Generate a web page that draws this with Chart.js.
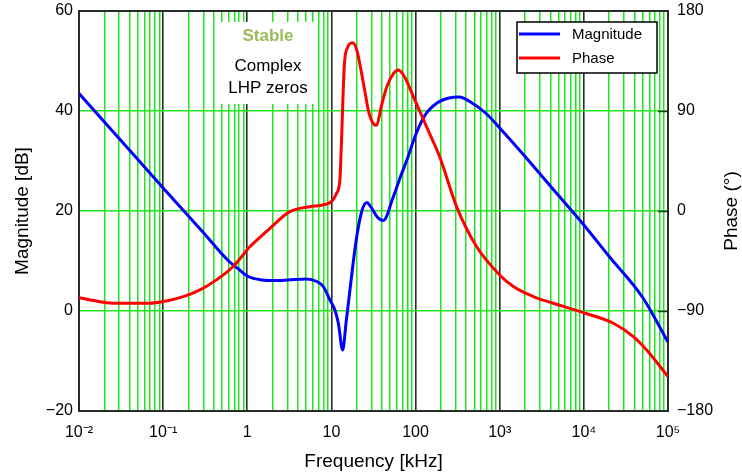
<!DOCTYPE html>
<html>
<head>
<meta charset="utf-8">
<script src="https://cdn.jsdelivr.net/npm/chart.js@4.4.1/dist/chart.umd.min.js"></script>
<style>
  html, body { margin: 0; padding: 0; background: #fff; }
  #wrap { width: 742px; height: 475px; }
</style>
</head>
<body>
<div id="wrap"><canvas id="chart" width="742" height="475"></canvas></div>
<script>
// frequency in kHz
const magFreq = [0.01, 0.03, 0.1, 0.3, 0.6, 0.8, 1, 1.5, 2, 3, 5, 6.7, 8, 9.6, 11, 12.1, 13.6, 15, 16.6, 18, 20, 22.9, 26.3, 30, 35, 41.4, 54, 65, 80, 100, 130, 180, 250, 330, 450, 700, 1000, 2000, 5000, 10000, 20000, 50000, 100000];
const magDb = [43.5, 34.5, 24.6, 15.7, 10.0, 8.3, 7.0, 6.2, 6.1, 6.2, 6.4, 5.9, 4.9, 2.2, 0.2, -2.5, -7.8, -2.0, 4.2, 9.2, 14.9, 19.9, 21.7, 20.6, 18.8, 18.1, 22.7, 26.5, 30.5, 35.2, 39.2, 41.6, 42.6, 42.8, 41.8, 39.4, 36.6, 30.9, 23.1, 17.2, 10.9, 2.7, -6.2];

const phaseFreq = [0.01, 0.0177, 0.028, 0.07, 0.098, 0.174, 0.274, 0.43, 0.68, 1.08, 1.86, 3.2, 5.5, 9.6, 11.5, 12.6, 13.2, 14.2, 15.5, 17.8, 20, 24, 28, 33.9, 40, 45.6, 55, 62.5, 75, 94, 146, 193, 307, 530, 1000, 1450, 2500, 4340, 9000, 22400, 38700, 55800, 100000];
const phaseDeg = [-78, -81.6, -83, -83, -81.6, -77, -71, -62, -50, -32, -15.6, -0.6, 3.9, 7.5, 15.9, 28, 65, 130, 147, 151.5, 145, 115, 88, 77, 97, 112, 124, 127, 120, 103, 70, 49, 3.9, -32, -57.6, -68, -77, -83, -90.6, -101, -113, -125, -149];

const decadeLabels = { '-2': '10⁻²', '-1': '10⁻¹', '0': '1', '1': '10', '2': '100', '3': '10³', '4': '10⁴', '5': '10⁵' };
const phaseTickMarks = [-90, 0, 90];
const noteLines = ['Stable', 'Complex', 'LHP zeros'];

const GREEN = '#1ee61e';
const AXIS = '#2a2a2a';
const FONT = '"Liberation Sans", Arial, Helvetica, sans-serif';

Chart.defaults.font.family = FONT;
Chart.defaults.color = '#000';

const isDecade = v => Math.abs(Math.log10(v) - Math.round(Math.log10(v))) < 1e-6;
const minus = v => (v < 0 ? '\u2212' + Math.abs(v) : String(v));

// fixed axis sizes so the plot box lands where the original one is
const fixWidth = w => scale => {
  scale.width = w;
  scale.paddingTop = 0;
  scale.paddingBottom = 0;
};

// frame, note box, inward phase ticks, legend, right axis title
const decorations = {
  id: 'decorations',
  beforeDatasetsDraw(chart) {
    const { ctx, chartArea: a, scales: { x, y, y1 } } = chart;
    ctx.save();
    // note box (no border, white background)
    const cx = x.getPixelForValue(1.76);
    const top = y.getPixelForValue(57.8), bot = y.getPixelForValue(41.4);
    ctx.fillStyle = '#fff';
    ctx.fillRect(cx - 48, top, 97, bot - top);
    ctx.textAlign = 'center';
    ctx.textBaseline = 'middle';
    ctx.fillStyle = '#9bbb59';
    ctx.font = `bold 17px ${FONT}`;
    ctx.fillText(noteLines[0], cx, y.getPixelForValue(55));
    ctx.fillStyle = '#000';
    ctx.font = `17px ${FONT}`;
    ctx.fillText(noteLines[1], cx, y.getPixelForValue(49));
    ctx.fillText(noteLines[2], cx, y.getPixelForValue(44.6));

    ctx.strokeStyle = AXIS;
    ctx.lineWidth = 2;
    ctx.strokeRect(a.left, a.top, a.width, a.height);
    ctx.lineWidth = 1.5;
    ctx.beginPath();
    for (const v of phaseTickMarks) {
      const py = Math.round(y1.getPixelForValue(v)) + 0.5;
      ctx.moveTo(a.right - 10, py);
      ctx.lineTo(a.right, py);
    }
    ctx.stroke();
    ctx.restore();
  },
  afterDraw(chart) {
    const { ctx, chartArea: a } = chart;
    ctx.save();
    // legend
    const bx = a.right - 151, by = a.top + 11, bw = 140, bh = 51;
    ctx.fillStyle = '#fff';
    ctx.fillRect(bx, by, bw, bh);
    ctx.strokeStyle = '#000';
    ctx.lineWidth = 1.5;
    ctx.strokeRect(bx, by, bw, bh);
    chart.data.datasets.forEach((ds, i) => {
      const ly = by + 12 + i * 24;
      ctx.strokeStyle = ds.borderColor;
      ctx.lineWidth = 3;
      ctx.beginPath();
      ctx.moveTo(bx + 2, ly);
      ctx.lineTo(bx + 43, ly);
      ctx.stroke();
      ctx.fillStyle = '#000';
      ctx.font = `15px ${FONT}`;
      ctx.textAlign = 'left';
      ctx.textBaseline = 'middle';
      ctx.fillText(ds.label, bx + 55, ly + 1);
    });
    // right axis title, reading bottom to top
    ctx.translate(a.right + 64, (a.top + a.bottom) / 2);
    ctx.rotate(-Math.PI / 2);
    ctx.textAlign = 'center';
    ctx.textBaseline = 'middle';
    ctx.font = `19px ${FONT}`;
    ctx.fillStyle = '#000';
    ctx.fillText('Phase (°)', 0, 0);
    ctx.restore();
  },
};

new Chart(document.getElementById('chart'), {
  type: 'line',
  data: {
    datasets: [
      {
        label: 'Magnitude',
        data: magFreq.map((f, i) => ({ x: f, y: magDb[i] })),
        yAxisID: 'y',
        borderColor: '#0000ff',
        borderWidth: 3,
        pointRadius: 0,
        cubicInterpolationMode: 'monotone',
        order: 1,
      },
      {
        label: 'Phase',
        data: phaseFreq.map((f, i) => ({ x: f, y: phaseDeg[i] })),
        yAxisID: 'y1',
        borderColor: '#ff0000',
        borderWidth: 3,
        pointRadius: 0,
        cubicInterpolationMode: 'monotone',
        order: 0,
      },
    ],
  },
  options: {
    responsive: false,
    animation: false,
    events: [],
    layout: { padding: { top: 11 } },
    plugins: { legend: { display: false }, tooltip: { enabled: false } },
    scales: {
      x: {
        type: 'logarithmic',
        min: 0.01,
        max: 1e5,
        afterBuildTicks: scale => {
          const ticks = [];
          for (let k = -2; k < 5; k++) for (let m = 1; m < 10; m++) ticks.push({ value: m * Math.pow(10, k) });
          ticks.push({ value: 1e5 });
          scale.ticks = ticks;
        },
        afterFit: scale => {
          scale.height = 64;
          scale.paddingLeft = 0;
          scale.paddingRight = 0;
        },
        ticks: {
          autoSkip: false,
          maxRotation: 0,
          padding: 12,
          font: { size: 16 },
          callback: v => (isDecade(v) ? decadeLabels[Math.round(Math.log10(v))] : ''),
        },
        grid: {
          drawTicks: false,
          color: c => (isDecade(c.tick.value) ? AXIS : GREEN),
          lineWidth: c => (isDecade(c.tick.value) ? 1.6 : 1.5),
        },
        border: { display: false },
        title: { display: true, text: 'Frequency [kHz]', font: { size: 19 }, padding: { top: 0, bottom: 2 } },
      },
      y: {
        position: 'left',
        min: -20,
        max: 60,
        afterFit: fixWidth(79),
        ticks: { stepSize: 20, padding: 6, font: { size: 16 }, callback: v => minus(v) },
        grid: { drawTicks: false, color: GREEN, lineWidth: 1.5 },
        border: { display: false },
        title: { display: true, text: 'Magnitude [dB]', font: { size: 19 }, padding: { top: 11, bottom: 0 } },
      },
      y1: {
        position: 'right',
        min: -180,
        max: 180,
        afterFit: fixWidth(74),
        ticks: { stepSize: 90, padding: 9, font: { size: 16 }, callback: v => minus(v) },
        grid: { drawOnChartArea: false, drawTicks: false },
        border: { display: false },
      },
    },
  },
  plugins: [decorations],
});
</script>
</body>
</html>
